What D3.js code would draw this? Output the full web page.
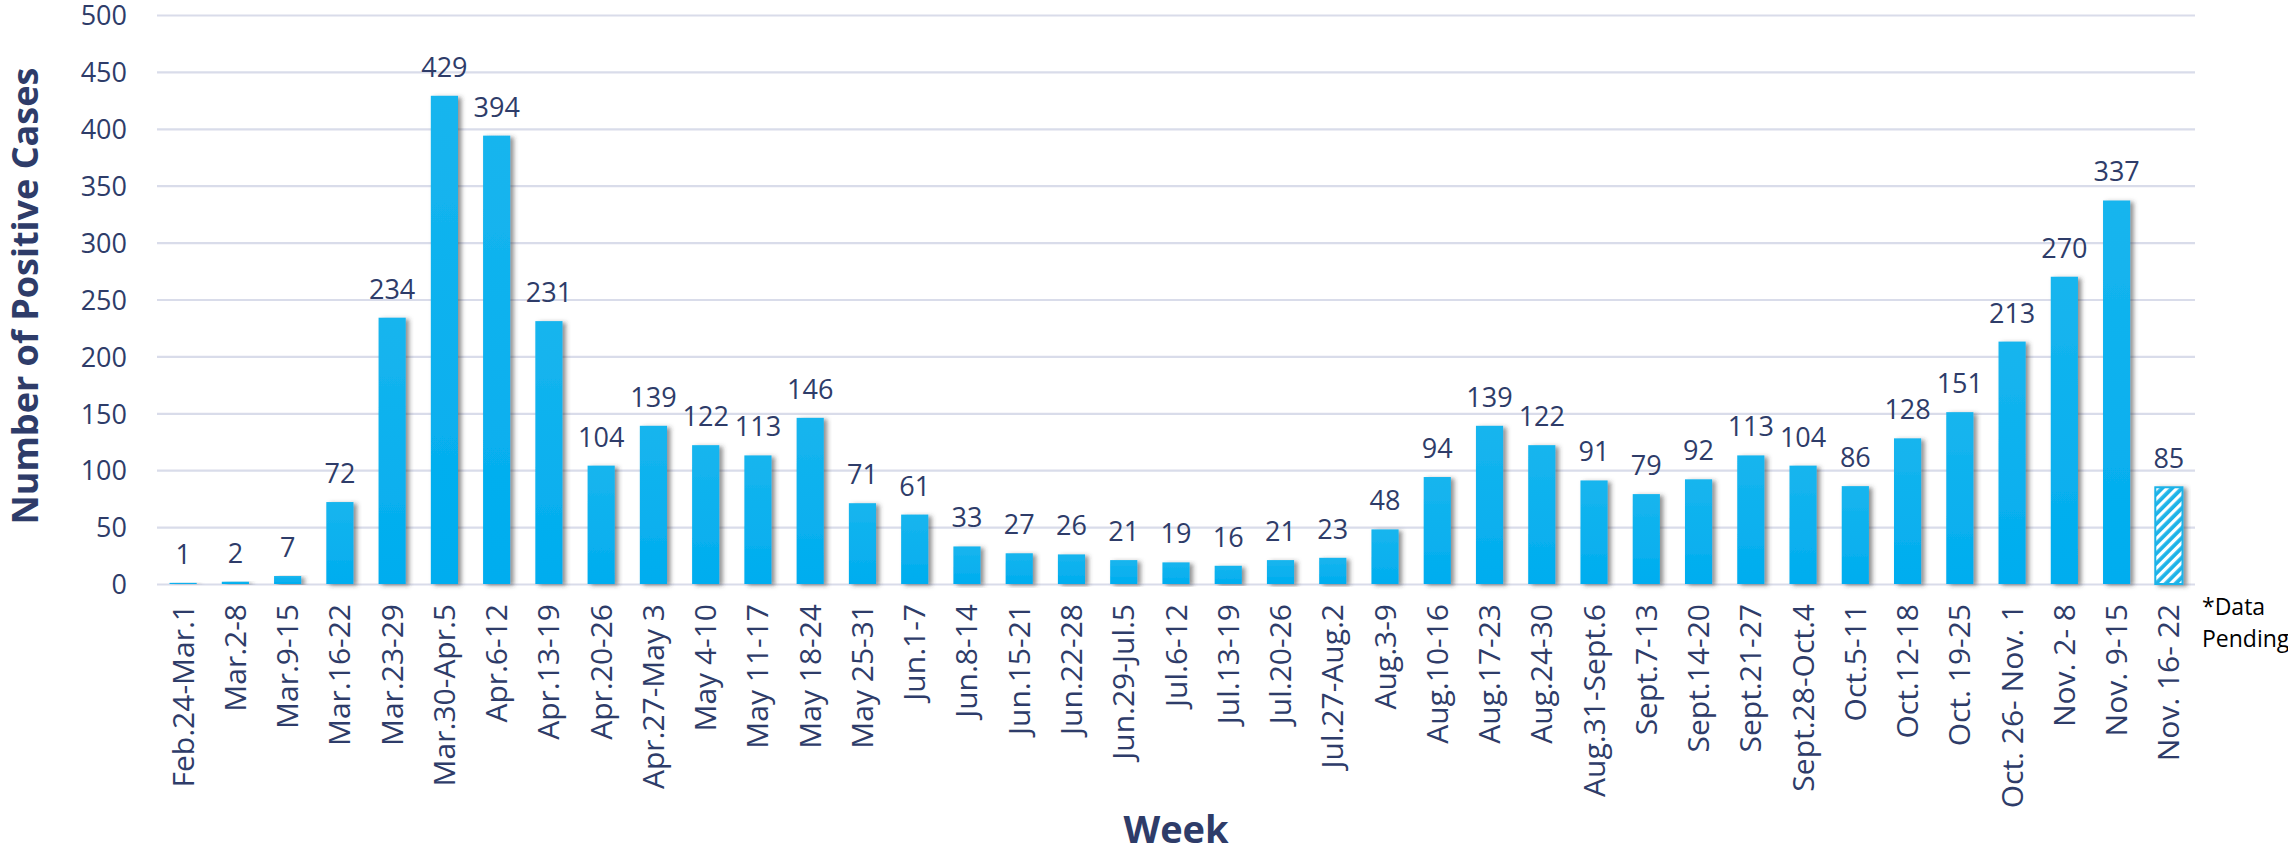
<!DOCTYPE html>
<html>
<head>
<meta charset="utf-8">
<script src="https://cdn.jsdelivr.net/npm/d3@7"></script>
<style>
  html, body { margin: 0; padding: 0; background: #ffffff; }
  svg { display: block; }
</style>
</head>
<body>
<svg id="chart" width="2288" height="853"></svg>
<script>
const weeks = ["Feb.24-Mar.1","Mar.2-8","Mar.9-15","Mar.16-22","Mar.23-29","Mar.30-Apr.5","Apr.6-12","Apr.13-19","Apr.20-26","Apr.27-May 3","May 4-10","May 11-17","May 18-24","May 25-31","Jun.1-7","Jun.8-14","Jun.15-21","Jun.22-28","Jun.29-Jul.5","Jul.6-12","Jul.13-19","Jul.20-26","Jul.27-Aug.2","Aug.3-9","Aug.10-16","Aug.17-23","Aug.24-30","Aug.31-Sept.6","Sept.7-13","Sept.14-20","Sept.21-27","Sept.28-Oct.4","Oct.5-11","Oct.12-18","Oct. 19-25","Oct. 26- Nov. 1","Nov. 2- 8","Nov. 9-15","Nov. 16- 22"];
const cases = [1,2,7,72,234,429,394,231,104,139,122,113,146,71,61,33,27,26,21,19,16,21,23,48,94,139,122,91,79,92,113,104,86,128,151,213,270,337,85];
const pending = [false,false,false,false,false,false,false,false,false,false,false,false,false,false,false,false,false,false,false,false,false,false,false,false,false,false,false,false,false,false,false,false,false,false,false,false,false,false,true];
const yTicks = [0,50,100,150,200,250,300,350,400,450,500];
const yTitle = "Number of Positive Cases";
const xTitle = "Week";
const noteLines = ["*Data", "Pending"];

const navy = "#2E3C69";
const font = "'Open Sans', 'Noto Sans', sans-serif";

const svg = d3.select("#chart");
const defs = svg.append("defs");

const grad = defs.append("linearGradient").attr("id","barGrad").attr("x1",0).attr("y1",0).attr("x2",0).attr("y2",1);
grad.append("stop").attr("offset","0%").attr("stop-color","#17B5EE");
grad.append("stop").attr("offset","100%").attr("stop-color","#00ADEF");

const shadow = defs.append("filter").attr("id","shadow").attr("x","-30%").attr("y","-10%").attr("width","160%").attr("height","120%");
shadow.append("feDropShadow").attr("dx",3.5).attr("dy",1.5).attr("stdDeviation",2).attr("flood-color","#3a3a3a").attr("flood-opacity",0.55);

const pat = defs.append("pattern").attr("id","hatch").attr("patternUnits","userSpaceOnUse")
  .attr("width",7).attr("height",7).attr("patternTransform","rotate(45)");
pat.append("rect").attr("width",7).attr("height",7).attr("fill","#1FB3E8");
pat.append("rect").attr("width",3.2).attr("height",7).attr("fill","#ffffff");

const plotLeft = 157, plotRight = 2195, plotTop = 15, plotBottom = 584;

const x = d3.scaleBand().domain(weeks).range([plotLeft, plotRight]).paddingInner(0.48).paddingOuter(0.24);
const y = d3.scaleLinear().domain([0, 500]).range([plotBottom, plotTop]);

// gridlines
const grid = svg.append("g").attr("class","grid")
  .attr("transform", `translate(${plotLeft},0)`)
  .call(d3.axisLeft(y).tickValues(yTicks).tickSize(-(plotRight-plotLeft)).tickFormat(""));
grid.select(".domain").remove();
grid.selectAll(".tick line").attr("stroke","#D9DCEA").attr("stroke-width",2.2);

// y axis labels
const yAxis = svg.append("g").attr("transform", `translate(${plotLeft - 30},0)`)
  .call(d3.axisLeft(y).tickValues(yTicks).tickSize(0).tickPadding(0));
yAxis.select(".domain").remove();
yAxis.selectAll("text").attr("fill", navy).style("font-family", font).style("font-size","27px").attr("dy","0.36em");

// bars
const bars = svg.append("g");
bars.selectAll("rect").data(weeks).join("rect")
  .attr("x", d => x(d))
  .attr("width", x.bandwidth())
  .attr("y", (d,i) => y(cases[i]))
  .attr("height", (d,i) => y(0) - y(cases[i]))
  .attr("fill", (d,i) => pending[i] ? "url(#hatch)" : "url(#barGrad)")
  .attr("stroke", (d,i) => pending[i] ? "#1FB3E8" : "none")
  .attr("stroke-width", 2)
  .attr("filter","url(#shadow)");

// value labels
svg.append("g").selectAll("text").data(weeks).join("text")
  .attr("x", d => x(d) + x.bandwidth()/2)
  .attr("y", (d,i) => y(cases[i]) - 19)
  .attr("text-anchor","middle")
  .attr("fill", navy)
  .style("font-family", font)
  .style("font-size","27px")
  .text((d,i) => cases[i]);

// x axis labels
const xAxis = svg.append("g").attr("transform", `translate(0,${plotBottom})`)
  .call(d3.axisBottom(x).tickSize(0).tickPadding(0));
xAxis.select(".domain").remove();
xAxis.selectAll("text")
  .attr("fill", navy)
  .style("font-family", font)
  .style("font-size","30px")
  .attr("text-anchor","end")
  .attr("transform","rotate(-90)")
  .attr("x", -20)
  .attr("y", 0)
  .attr("dy","0.35em");

// axis titles
svg.append("text")
  .attr("transform", `translate(38, 296) rotate(-90)`)
  .attr("text-anchor","middle")
  .attr("fill", navy)
  .style("font-family", font)
  .style("font-weight","700")
  .style("font-size","36px")
  .text(yTitle);

svg.append("text")
  .attr("x", (plotLeft+plotRight)/2)
  .attr("y", 843)
  .attr("text-anchor","middle")
  .attr("fill", navy)
  .style("font-family", font)
  .style("font-weight","700")
  .style("font-size","38px")
  .text(xTitle);

// note
svg.append("g").selectAll("text").data(noteLines).join("text")
  .attr("x", 2202)
  .attr("y", (d,i) => 615 + i*32)
  .attr("fill", "#000000")
  .style("font-family", font)
  .style("font-size","23px")
  .text(d => d);
</script>
</body>
</html>
